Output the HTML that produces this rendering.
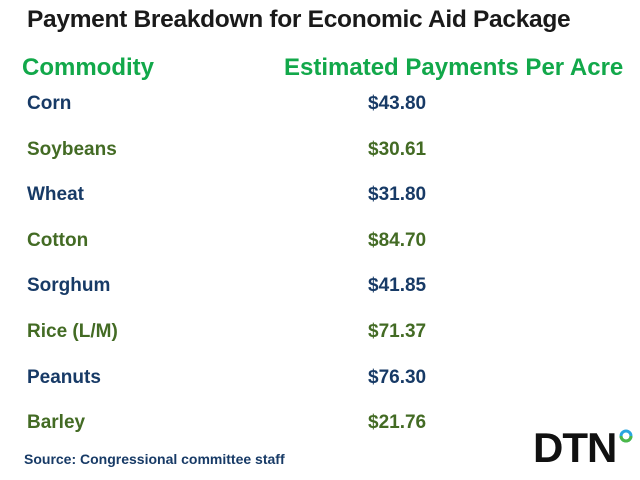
<!DOCTYPE html>
<html><head><meta charset="utf-8"><style>
body{margin:0;width:640px;height:480px;background:#fff;position:relative;overflow:hidden;font-family:"Liberation Sans",Arial,sans-serif;font-weight:bold}
div{position:absolute;white-space:nowrap}
.t{left:27px;top:6px;font-size:24.5px;color:#1a1a1a;letter-spacing:-0.3px}
.h{top:54px;font-size:24px;color:#12a84a}
.r{font-size:19px;left:27px}
.v{font-size:19px;left:368px}
.n{color:#173a66}.g{color:#436b24}
.src{left:24px;top:451px;font-size:14px;color:#173a66}
</style></head><body>
<div class="t">Payment Breakdown for Economic Aid Package</div>
<div class="h" style="left:22px">Commodity</div>
<div class="h" style="left:284px">Estimated Payments Per Acre</div>
<div id="rows"></div>
<div class="src">Source: Congressional committee staff</div>
<div style="left:533px;top:424px;font-size:42px;font-weight:900;color:#111;letter-spacing:-1px">DTN</div>
<svg style="position:absolute;left:617px;top:427px" width="18" height="18"><circle cx="9" cy="9" r="5" fill="none" stroke="#2aa6df" stroke-width="3"/><path d="M4 9 A5 5 0 0 0 14 9" fill="none" stroke="#4cb848" stroke-width="3"/></svg>
<script>
const commodities=["Corn","Soybeans","Wheat","Cotton","Sorghum","Rice (L/M)","Peanuts","Barley"];
const payments=["$43.80","$30.61","$31.80","$84.70","$41.85","$71.37","$76.30","$21.76"];
const rows=document.getElementById('rows');
commodities.forEach((c,i)=>{
  const top=93+i*45.6;
  const cls=i%2?'g':'n';
  const a=document.createElement('div');
  a.className='r '+cls;a.style.top=top+'px';a.textContent=c;
  
  
  rows.appendChild(a);
  const b=document.createElement('div');
  b.className='v '+cls;b.style.top=top+'px';b.textContent=payments[i];
  
  
  rows.appendChild(b);
});
</script>
</body></html>
